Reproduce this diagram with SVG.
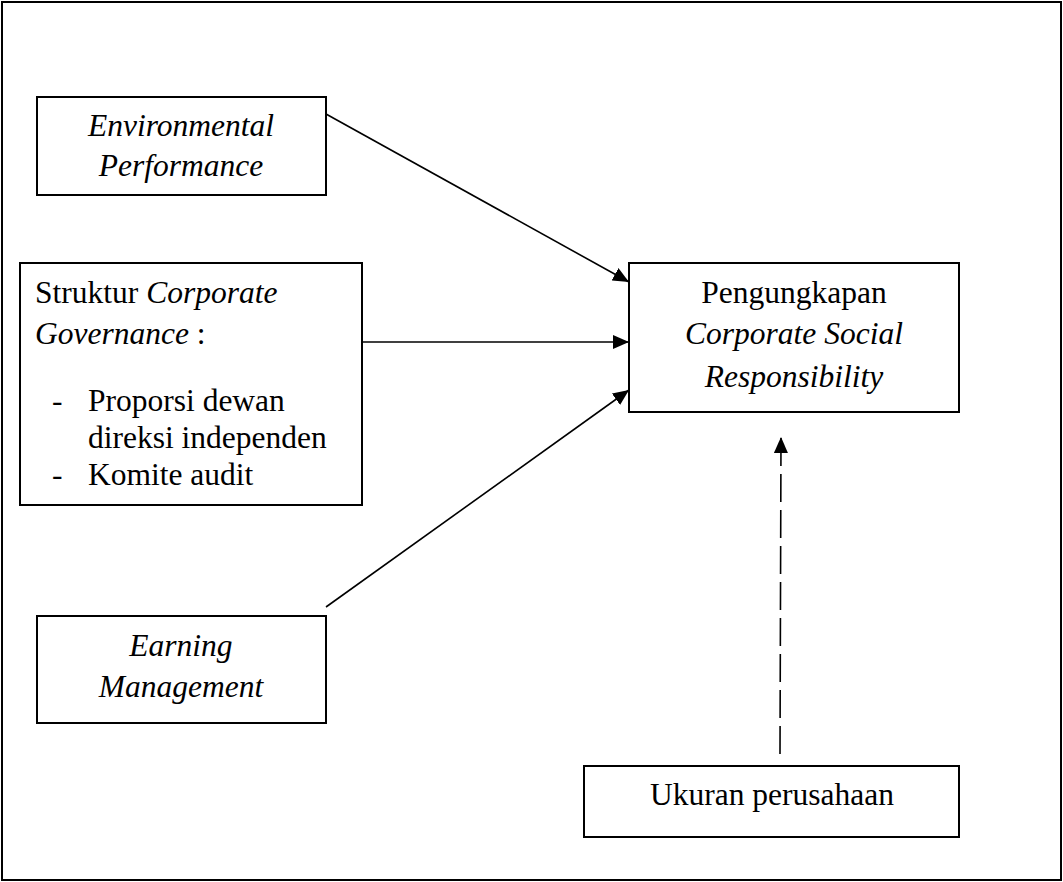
<svg xmlns="http://www.w3.org/2000/svg" width="1063" height="882" viewBox="0 0 1063 882">
<defs>
<style>
.box{fill:#fff;stroke:#000;stroke-width:2}
.t{font-family:"Liberation Serif","Times New Roman",serif;font-size:31.5px;fill:#000}
.i{font-style:italic}
.c{text-anchor:middle}
.ln{fill:none;stroke:#000;stroke-width:1.6}
</style>
<marker id="ah" viewBox="0 0 16 14" refX="16" refY="7" markerWidth="16" markerHeight="14" markerUnits="userSpaceOnUse" orient="auto">
<path d="M0,0 L16,7 L0,14 Z" fill="#000"/>
</marker>
</defs>
<rect x="0" y="0" width="1063" height="882" fill="#fff"/>
<rect x="2" y="2" width="1059" height="878" fill="none" stroke="#000" stroke-width="2"/>
<g id="connectors">
<line class="ln" x1="326" y1="114" x2="629" y2="282" marker-end="url(#ah)"/>
<line class="ln" x1="362" y1="342" x2="629" y2="342" stroke-width="2.2" marker-end="url(#ah)"/>
<line class="ln" x1="326" y1="607" x2="629" y2="390" marker-end="url(#ah)"/>
<line class="ln" x1="780" y1="754" x2="781" y2="437" stroke-dasharray="28 8" marker-end="url(#ah)"/>
</g>
<g id="env">
<rect class="box" x="37" y="97" width="289" height="98"/>
<text class="t i c" x="181" y="136">Environmental</text>
<text class="t i c" x="181" y="176">Performance</text>
</g>
<g id="struktur">
<rect class="box" x="20" y="263" width="342" height="242"/>
<text class="t" x="35" y="303">Struktur <tspan class="i">Corporate</tspan></text>
<text class="t" x="35" y="344"><tspan class="i">Governance</tspan> :</text>
<text class="t" x="52" y="411">-</text>
<text class="t" x="88" y="411">Proporsi dewan</text>
<text class="t" x="88" y="448">direksi independen</text>
<text class="t" x="52" y="485">-</text>
<text class="t" x="88" y="485">Komite audit</text>
</g>
<g id="csr">
<rect class="box" x="629" y="263" width="330" height="149"/>
<text class="t c" x="794" y="303">Pengungkapan</text>
<text class="t i c" x="794" y="344">Corporate Social</text>
<text class="t i c" x="794" y="387">Responsibility</text>
</g>
<g id="earning">
<rect class="box" x="37" y="616" width="289" height="107"/>
<text class="t i c" x="181" y="656">Earning</text>
<text class="t i c" x="181" y="697">Management</text>
</g>
<g id="ukuran">
<rect class="box" x="584" y="766" width="375" height="71"/>
<text class="t c" x="772" y="805">Ukuran perusahaan</text>
</g>
</svg>
